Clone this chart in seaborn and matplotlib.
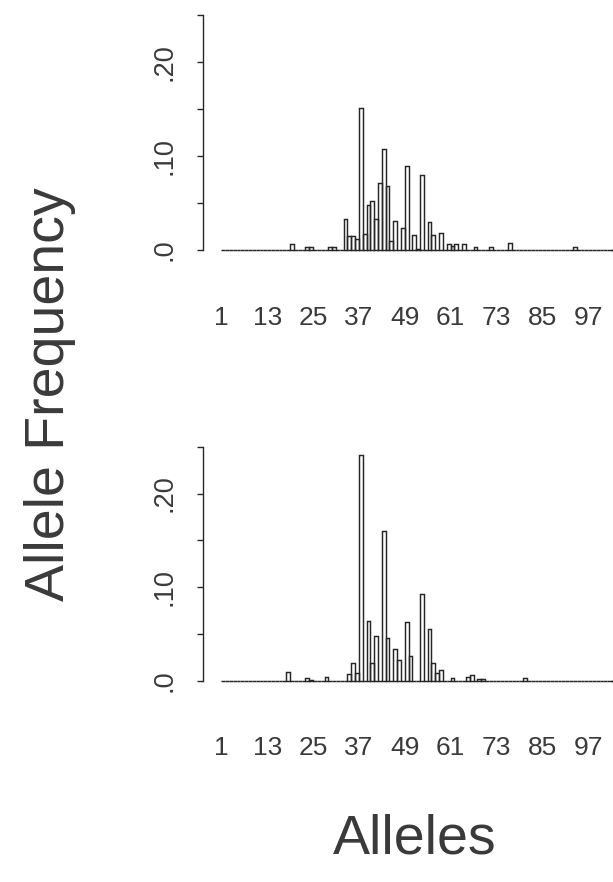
import numpy as np
import pandas as pd
import matplotlib
matplotlib.use("Agg")
import matplotlib.pyplot as plt
import seaborn as sns

sns.set_theme(style="white")
plt.rcParams["font.family"] = ["Liberation Sans", "DejaVu Sans"]

# Allele frequencies, first sample
top_alleles = [19, 23, 24, 29, 30, 33, 34, 35, 36, 37, 38, 39, 40, 41, 42, 43, 44,
               45, 46, 48, 49, 51, 52, 53, 55, 56, 58, 60, 61, 62, 64, 67, 71, 76, 93]
top_freq = [0.0067, 0.0035, 0.0035, 0.0035, 0.0035, 0.0333, 0.0145, 0.0152, 0.0117,
            0.151, 0.0165, 0.0475, 0.0525, 0.033, 0.0716, 0.107, 0.068, 0.0092,
            0.0305, 0.0234, 0.0897, 0.0156, 0.001, 0.0798, 0.0301, 0.0163, 0.0184,
            0.0064, 0.0045, 0.006, 0.0064, 0.0035, 0.0035, 0.0071, 0.0035]

# Allele frequencies, second sample
bottom_alleles = [18, 23, 24, 28, 34, 35, 36, 37, 39, 40, 41, 43, 44, 46, 47, 49, 50,
                  53, 55, 56, 57, 58, 61, 65, 66, 68, 69, 80]
bottom_freq = [0.0096, 0.0026, 0.0008, 0.0036, 0.0068, 0.0192, 0.0078, 0.2407,
               0.0641, 0.0192, 0.0477, 0.160, 0.0456, 0.0335, 0.0221, 0.063, 0.0264,
               0.0923, 0.0549, 0.0192, 0.0087, 0.0111, 0.003, 0.0038, 0.0058, 0.0015,
               0.0015, 0.0032]

x_ticks = [1, 13, 25, 37, 49, 61, 73, 85, 97]
y_ticks = [0.0, 0.05, 0.10, 0.15, 0.20, 0.25]
y_tick_labels = [".0", "", ".10", "", ".20", ""]

LINE = "#262626"
TEXT = "#3a3a3a"

W, H = 613, 882
fig = plt.figure(figsize=(W / 100, H / 100), dpi=100)
fig.patch.set_facecolor("white")

x_lo, x_hi = -3.8, 103.5
bin_edges = list(range(1, 106))
panels = [
    (top_alleles, top_freq, 250.0, 235.0),
    (bottom_alleles, bottom_freq, 680.7, 234.0),
]

for alleles, freq, base_px, span_px in panels:
    ax = fig.add_axes([203 / W, (H - base_px) / H, (W - 203) / W, span_px / H])
    df = pd.DataFrame({"allele": alleles, "freq": freq})
    sns.histplot(data=df, x="allele", weights="freq", bins=bin_edges,
                 stat="count", fill=False, element="bars", color=LINE,
                 linewidth=1.05, shrink=1.0, ax=ax)
    for p in ax.patches:
        p.set_clip_on(False)
        p.set_edgecolor(LINE)
    ax.set_xlim(x_lo, x_hi)
    ax.set_ylim(0, 0.25)
    ax.set_xlabel("")
    ax.set_ylabel("")
    for s in ["top", "right", "bottom"]:
        ax.spines[s].set_visible(False)
    ax.spines["left"].set_color(LINE)
    ax.spines["left"].set_linewidth(1.0)
    ax.spines["left"].set_bounds(0, 0.25)
    ax.set_yticks(y_ticks)
    ax.set_yticklabels(y_tick_labels, rotation=90, va="center", fontsize=19.5, color=TEXT)
    ax.tick_params(axis="y", left=True, length=4.5, width=1.0, color=LINE, pad=14)
    ax.set_xticks(x_ticks)
    ax.set_xticklabels([str(v) for v in x_ticks], fontsize=19, color=TEXT)
    ax.tick_params(axis="x", bottom=False, length=0, pad=40)
    ax.set_facecolor("none")

fig.text(50 / W, 1 - 394 / H, "Allele Frequency", rotation=90, fontsize=40,
         color=TEXT, ha="center", va="center")
fig.text(415 / W, 1 - 840 / H, "Alleles", fontsize=40, color=TEXT,
         ha="center", va="center")

fig.savefig("out.png", dpi=100, facecolor="white")
